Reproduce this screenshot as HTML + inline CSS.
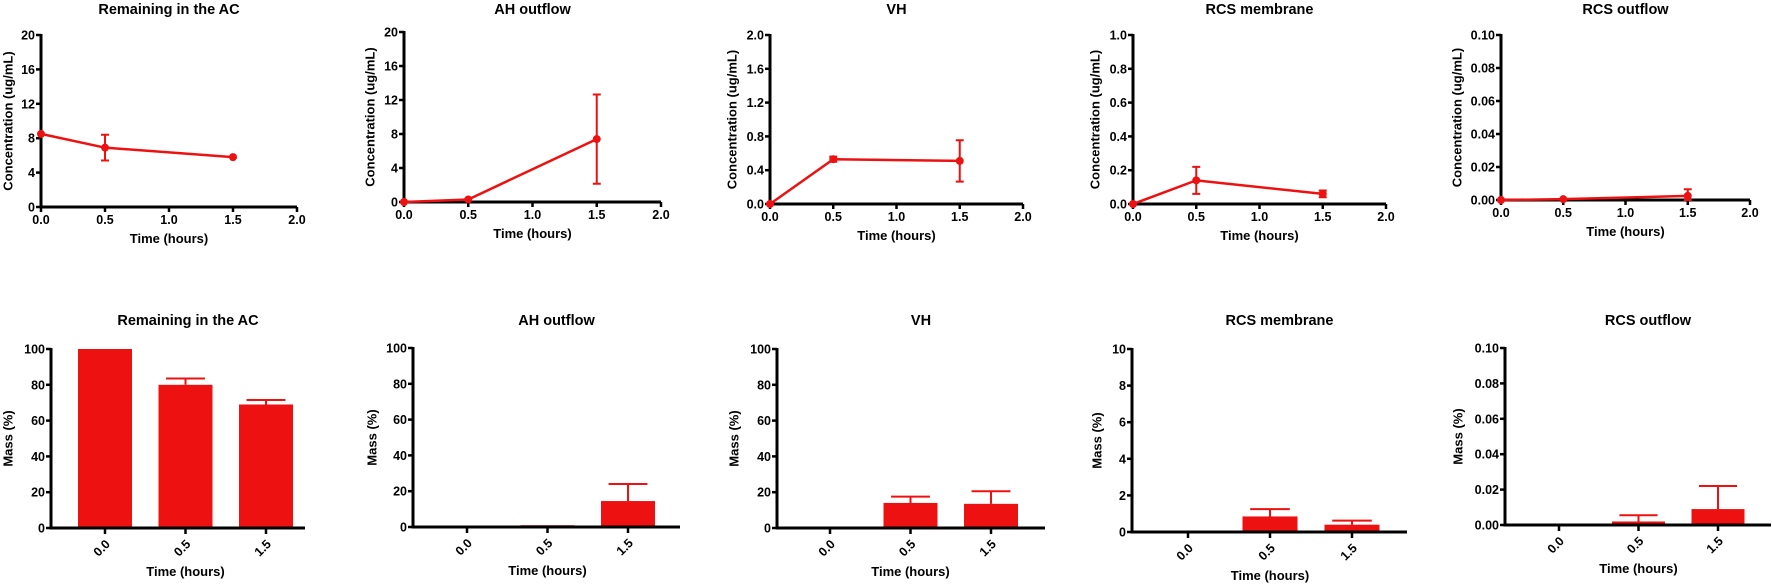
<!DOCTYPE html>
<html><head><meta charset="utf-8"><style>
html,body{margin:0;padding:0;background:#fff;}
svg{display:block;font-family:"Liberation Sans",Arial,sans-serif;font-weight:bold;}
</style></head><body>
<svg id="fig" width="1772" height="588" viewBox="0 0 1772 588" xmlns="http://www.w3.org/2000/svg"></svg>
<script>
// ---- data ----
const chartTitles = ["Remaining in the AC","AH outflow","VH","RCS membrane","RCS outflow"];
const timePoints = [0, 0.5, 1.5];
const xTickLabels = ["0.0","0.5","1.0","1.5","2.0"];
const xTickValues = [0, 0.5, 1, 1.5, 2];
const concMax = [20, 20, 2, 1, 0.1];
const concTickLabels = [
  ["0","4","8","12","16","20"],
  ["0","4","8","12","16","20"],
  ["0.0","0.4","0.8","1.2","1.6","2.0"],
  ["0.0","0.2","0.4","0.6","0.8","1.0"],
  ["0.00","0.02","0.04","0.06","0.08","0.10"]
];
const concMean = [
  [8.5, 6.9, 5.8],
  [0, 0.3, 7.4],
  [0, 0.53, 0.51],
  [0, 0.14, 0.06],
  [0, 0.0005, 0.0025]
];
const concErr = [
  [0, 1.5, 0],
  [0, 0, 5.25],
  [0, 0.03, 0.245],
  [0, 0.08, 0.02],
  [0, 0, 0.004]
];
const massCategories = ["0.0","0.5","1.5"];
const massMax = [100, 100, 100, 10, 0.1];
const massTickLabels = [
  ["0","20","40","60","80","100"],
  ["0","20","40","60","80","100"],
  ["0","20","40","60","80","100"],
  ["0","2","4","6","8","10"],
  ["0.00","0.02","0.04","0.06","0.08","0.10"]
];
const massMean = [
  [100, 80, 69],
  [0, 1, 14.5],
  [0, 14, 13.5],
  [0, 0.85, 0.4],
  [0, 0.002, 0.009]
];
const massErr = [
  [0, 3.5, 2.5],
  [0, 0, 9.5],
  [0, 3.5, 7],
  [0, 0.4, 0.22],
  [0, 0.0035, 0.013]
];
// ---- layout ----
const topAxes = [[41,297,35,207],[404,661,32,202],[770,1023,35,204],[1133,1386,35,204],[1501,1750,35,200]];
const topTitleOff = [33, 34, 38, 38, 44];
const botAxes = [[51,305,349,528,105,80.5,54],[413,680,348,527,467,80.5,54],[777,1045,349,528,830,80.5,54],[1132,1407,349,532,1188,82,55],[1505,1771,348,525,1559,79.5,53]];
const botTitleOff = [43, 41, 43, 35, 47];
const RED = "#ee1111";
const NS = "http://www.w3.org/2000/svg";
const svg = document.getElementById('fig');
function mk(tag, attrs, parent, text){
  const e = document.createElementNS(NS, tag);
  for (const k in attrs) e.setAttribute(k, attrs[k]);
  if (text !== undefined) e.textContent = text;
  (parent||svg).appendChild(e);
  return e;
}
function yAxis(g, x, y0, y1, labels, titleText, titleX){
  const n = labels.length - 1;
  for (let i=0;i<=n;i++){
    const y = y0 - (y0-y1)*i/n;
    const t = mk('line',{x1:x-5,x2:x,y1:y,y2:y,stroke:'#000','stroke-width':2.5},g);
    
    
    const l = mk('text',{x:x-6,y:y+4.5,'text-anchor':'end','font-size':12.5},g,labels[i]);
    
    
  }
  const a = mk('line',{x1:x,x2:x,y1:y1-1,y2:y0+1.5,stroke:'#000','stroke-width':3},g);
  
  
  const cy=(y0+y1)/2;
  const tt = mk('text',{x:titleX,y:cy,'text-anchor':'middle','font-size':13,transform:`rotate(-90 ${titleX} ${cy})`,dy:4.5},g,titleText);
  
  
}
// ---- top line charts ----
for (let c=0;c<5;c++){
  const [x0,x1,y1,y0] = topAxes[c];
  const g = mk('g',{});
  
  
  const sx = v => x0 + (x1-x0)*v/2;
  const sy = v => y0 - (y0-y1)*v/concMax[c];
  const ti = mk('text',{x:(x0+x1)/2,y:14,'text-anchor':'middle','font-size':14.5},g,chartTitles[c]);
  
  
  yAxis(g,x0,y0,y1,concTickLabels[c],'Concentration (ug/mL)',x0-topTitleOff[c]);
  const xa = mk('line',{x1:x0-1.5,x2:x1,y1:y0,y2:y0,stroke:'#000','stroke-width':3},g);
  
  
  for (let i=0;i<xTickValues.length;i++){
    const x = sx(xTickValues[i]);
    const tk = mk('line',{x1:x,x2:x,y1:y0,y2:y0+5,stroke:'#000','stroke-width':2.5},g);
    
    
    const tl = mk('text',{x:x,y:y0+17,'text-anchor':'middle','font-size':12.5},g,xTickLabels[i]);
    
    
  }
  const xt = mk('text',{x:(x0+x1)/2,y:y0+36,'text-anchor':'middle','font-size':13},g,'Time (hours)');
  
  
  const pts = timePoints.map((t,i)=>sx(t)+','+sy(concMean[c][i])).join(' ');
  const pl = mk('polyline',{points:pts,fill:'none',stroke:RED,'stroke-width':2.5},g);
  
  
  timePoints.forEach((t,i)=>{
    const x=sx(t), m=concMean[c][i], e=concErr[c][i];
    if (e>0){
      const hi=sy(m+e), lo=sy(Math.max(0,m-e));
      const eb = mk('path',{d:`M${x},${hi}V${lo}M${x-4},${hi}H${x+4}M${x-4},${lo}H${x+4}`,stroke:RED,'stroke-width':2,fill:'none'},g);
      
      
    }
    const p = mk('circle',{cx:x,cy:sy(m),r:4,fill:RED},g);
    
    
  });
}
// ---- bottom bar charts ----
for (let c=0;c<5;c++){
  const [x0,x1,y1,y0,cx0,step,bw] = botAxes[c];
  const g = mk('g',{});
  
  
  const sy = v => y0 - (y0-y1)*v/massMax[c];
  const ti = mk('text',{x:(x0+x1)/2+10,y:325,'text-anchor':'middle','font-size':14.5},g,chartTitles[c]);
  
  
  massCategories.forEach((cat,i)=>{
    const x = cx0 + step*i, m = massMean[c][i], e = massErr[c][i];
    if (m>0){
      const b = mk('rect',{x:x-bw/2,y:sy(m),width:bw,height:y0-sy(m),fill:RED},g);
      
      
    }
    if (e>0){
      const hi=sy(m+e);
      const eb = mk('path',{d:`M${x},${sy(m)}V${hi}M${x-bw*0.36},${hi}H${x+bw*0.36}`,stroke:RED,'stroke-width':2,fill:'none'},g);
      
      
    }
    const tk = mk('line',{x1:x,x2:x,y1:y0,y2:y0+6,stroke:'#000','stroke-width':2.5},g);
    
    
    const ly=y0+14;
    const tl = mk('text',{x:x+3,y:ly+4,'text-anchor':'end','font-size':12.5,transform:`rotate(-45 ${x+3} ${ly})`},g,cat);
    
    
  });
  yAxis(g,x0,y0,y1,massTickLabels[c],'Mass (%)',x0-botTitleOff[c]);
  const xa = mk('line',{x1:x0-1.5,x2:x1,y1:y0,y2:y0,stroke:'#000','stroke-width':3},g);
  
  
  const xt = mk('text',{x:cx0+step,y:y0+48,'text-anchor':'middle','font-size':13},g,'Time (hours)');
  
  
}
</script>
</body></html>
